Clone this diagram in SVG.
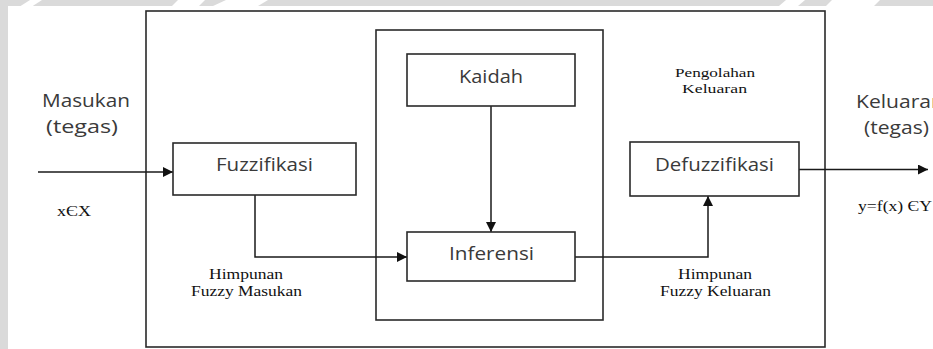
<svg xmlns="http://www.w3.org/2000/svg" width="933" height="349" viewBox="0 0 933 349">
<defs>
<style>
.box{fill:#fff;stroke:#2a2a2a;stroke-width:1.6}
.frame{fill:none;stroke:#2a2a2a;stroke-width:1.6}
.ln{fill:none;stroke:#1a1a1a;stroke-width:1.5}
.sans{font-family:"Open Sans","Liberation Sans",sans-serif;fill:#3a3a3a;font-size:18px}
.serif{font-family:"Liberation Serif","DejaVu Serif",serif;fill:#111;font-size:15px}
.sm{font-size:13px}
</style>
<marker id="ah" viewBox="0 0 10 10" refX="10" refY="5" markerWidth="10" markerHeight="10" markerUnits="userSpaceOnUse" orient="auto">
<path d="M0,0 L10,5 L0,10 z" fill="#111"/>
</marker>
</defs>
<rect x="0" y="0" width="933" height="349" fill="#dadada"/>
<rect x="8" y="6" width="925" height="343" fill="#fff"/>
<g fill="#fff">
<polygon points="8,14 30,0 42,0 8,22"/>
<polygon points="172,6 178,0 205,0 199,6"/>
<polygon points="213,6 226,0 268,0 258,6"/>
<polygon points="779,6 786,0 805,0 798,6"/>
<polygon points="826,6 832,0 880,0 874,6"/>
</g>
<g id="outer"><rect class="frame" x="146" y="11" width="679" height="336"/></g>
<g id="inner"><rect class="frame" x="376" y="30" width="227" height="290"/></g>
<g id="connectors">
<line class="ln" x1="38" y1="172" x2="173" y2="172" marker-end="url(#ah)"/>
<polyline class="ln" points="255,195 255,257 407,257" marker-end="url(#ah)"/>
<line class="ln" x1="491" y1="106" x2="491" y2="232" marker-end="url(#ah)"/>
<polyline class="ln" points="575,257 708,257 708,196" marker-end="url(#ah)"/>
<line class="ln" x1="799" y1="169.5" x2="928" y2="169.5" marker-end="url(#ah)"/>
</g>
<g id="kaidah"><rect class="box" x="407" y="54" width="168" height="52"/><text class="sans" x="459" y="83" textLength="64" lengthAdjust="spacingAndGlyphs">Kaidah</text></g>
<g id="fuzzifikasi"><rect class="box" x="173" y="143" width="183" height="52"/><text class="sans" x="216" y="171" textLength="97" lengthAdjust="spacingAndGlyphs">Fuzzifikasi</text></g>
<g id="inferensi"><rect class="box" x="407" y="232" width="168" height="49"/><text class="sans" x="449" y="260" textLength="85" lengthAdjust="spacingAndGlyphs">Inferensi</text></g>
<g id="defuzzifikasi"><rect class="box" x="630" y="142" width="169" height="54"/><text class="sans" x="655" y="171" textLength="119" lengthAdjust="spacingAndGlyphs">Defuzzifikasi</text></g>
<g id="labels">
<text class="sans" x="42" y="107" textLength="88" lengthAdjust="spacingAndGlyphs">Masukan</text>
<text class="sans" x="46" y="133" textLength="72" lengthAdjust="spacingAndGlyphs">(tegas)</text>
<text class="sans" x="856" y="108" textLength="88" lengthAdjust="spacingAndGlyphs">Keluaran</text>
<text class="sans" x="864" y="134" textLength="65" lengthAdjust="spacingAndGlyphs">(tegas)</text>
<text class="serif" x="57" y="216" textLength="34" lengthAdjust="spacingAndGlyphs">x&#1028;X</text>
<text class="serif" x="858" y="211" textLength="74" lengthAdjust="spacingAndGlyphs">y=f(x) &#1028;Y</text>
<text class="serif sm" x="675" y="77" textLength="80" lengthAdjust="spacingAndGlyphs">Pengolahan</text>
<text class="serif sm" x="682" y="93" textLength="65" lengthAdjust="spacingAndGlyphs">Keluaran</text>
<text class="serif" x="209" y="279" textLength="74" lengthAdjust="spacingAndGlyphs">Himpunan</text>
<text class="serif" x="191" y="296" textLength="111" lengthAdjust="spacingAndGlyphs">Fuzzy Masukan</text>
<text class="serif" x="678" y="279" textLength="74" lengthAdjust="spacingAndGlyphs">Himpunan</text>
<text class="serif" x="660" y="296" textLength="111" lengthAdjust="spacingAndGlyphs">Fuzzy Keluaran</text>
</g>
</svg>
